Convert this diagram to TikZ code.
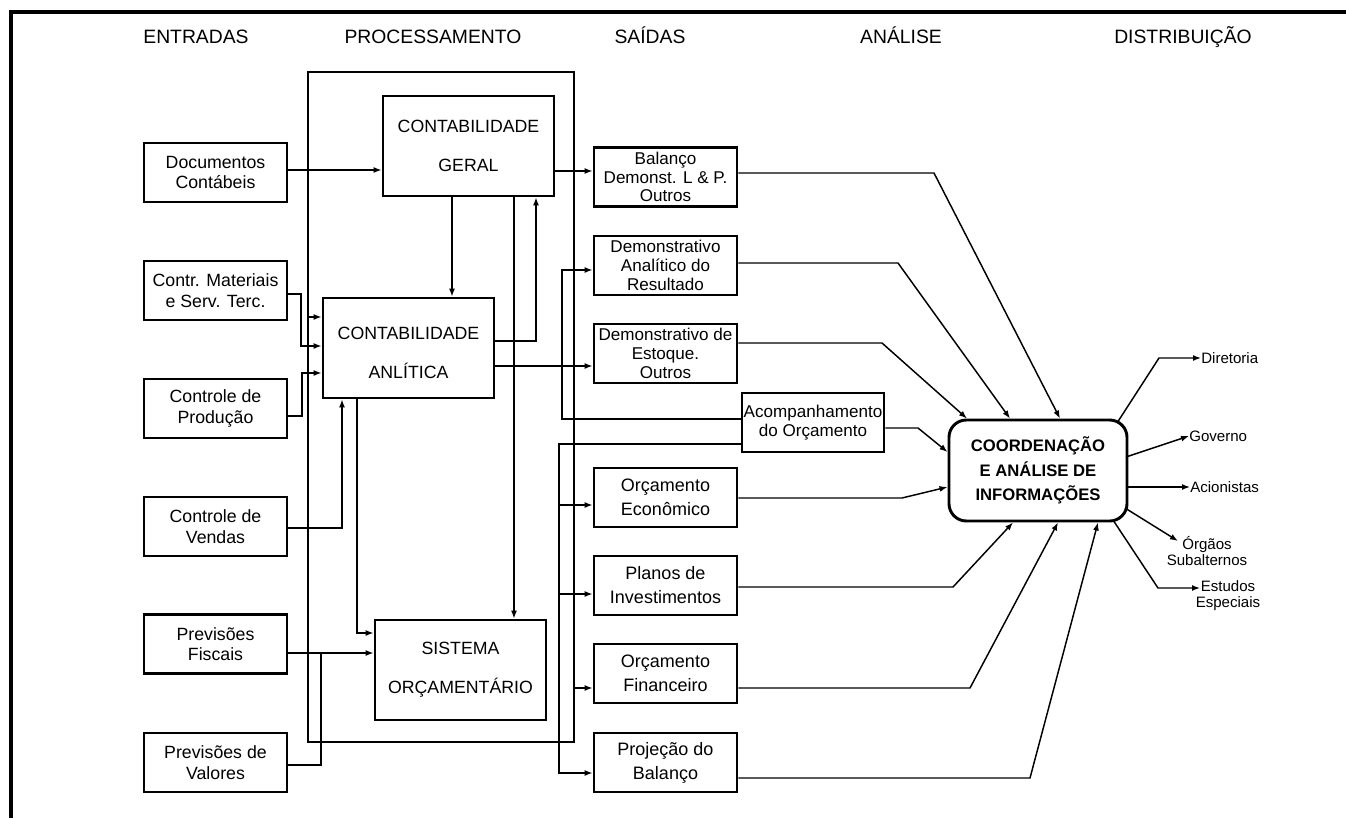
\documentclass[tikz,border=0pt]{standalone}
\usepackage{fontspec}
\setmainfont{Liberation Sans}
\usetikzlibrary{arrows.meta}
\begin{document}
\begin{tikzpicture}[x=0.75pt,y=-0.75pt,
  box/.style={draw=black, line width=2pt, inner sep=0pt, align=center,
    minimum width=107.25pt, minimum height=44.25pt, font=\fontsize{13.3}{15.5}\selectfont},
  inbox/.style={box},
  procbox/.style={box, minimum width=128.25pt, minimum height=75pt, font=\fontsize{13.3}{29}\selectfont},
  outbox/.style={box, font=\fontsize{12.8}{14}\selectfont},
  budbox/.style={box, font=\fontsize{13.5}{18}\selectfont},
  hub/.style={draw=black, line width=2.2pt, rounded corners=13pt, minimum width=133.5pt,
    minimum height=75.75pt, align=center, inner sep=0pt,
    font=\fontsize{12.5}{18.4}\selectfont\bfseries},
  head/.style={font=\fontsize{14.5}{17}\selectfont, inner sep=0pt, anchor=base},
  dest/.style={font=\fontsize{11.3}{12}\selectfont, inner sep=0pt, align=center},
  conn/.style={line width=1.3pt},
  arr/.style={conn, -{Latex[length=6pt,width=4.5pt]}},
  arrb/.style={line width=1.1pt, -{Latex[length=6pt,width=4.5pt]}},
]
\useasboundingbox (0,0) rectangle (1346,818);
% frame
\draw[line width=2.5pt] (11,818) -- (11,12) -- (1346,12);

% headers
\node[head] (hE) at (196,43) {ENTRADAS};
\node[head] (hP) at (433,43) {PROCESSAMENTO};
\node[head] (hS) at (650,43) {SAÍDAS};
\node[head] (hA) at (901,43) {ANÁLISE};
\node[head] (hD) at (1183,43) {DISTRIBUIÇÃO};

% inputs
\node[inbox] (docs) at (215.5,172.5) {Documentos\\Contábeis};
\node[inbox] (mat)  at (215.5,290.5) {Contr. Materiais\\e Serv. Terc.};
\node[inbox] (prod) at (215.5,408.5) {Controle de\\Produção};
\node[inbox] (vend) at (215.5,526.5) {Controle de\\Vendas};
\node[inbox] (fisc) at (215.5,644) {Previsões\\Fiscais};
\node[inbox] (valo) at (215.5,762.5) {Previsões de\\Valores};

% processing
\node[procbox] (geral) at (468.5,146) {CONTABILIDADE\\GERAL};
\node[procbox] (anal)  at (408.5,348) {\rule{0pt}{17pt}CONTABILIDADE\\ANLÍTICA};
\node[procbox] (sist)  at (460.5,670) {SISTEMA\\ORÇAMENTÁRIO};

% outputs
\node[outbox] (bal) at (665.5,177) {Balanço\\Demonst. L \& P.\\Outros};
\node[outbox] (dar) at (665.5,265.5) {Demonstrativo\\Analítico do\\Resultado};
\node[outbox] (est) at (665.5,353.5) {Demonstrativo de\\Estoque.\\Outros};
\node[outbox, minimum width=106.5pt] (acomp) at (813,422.5) {Acompanhamento\\do Orçamento};
\node[budbox] (orce) at (665.5,497.5) {Orçamento\\Econômico};
\node[budbox] (plan) at (665.5,585.5) {Planos de\\Investimentos};
\node[budbox] (orcf) at (665.5,673.5) {Orçamento\\Financeiro};
\node[budbox] (proj) at (665.5,762.5) {Projeção do\\Balanço};

% hub
\node[hub] (coord) at (1038,470.5) {COORDENAÇÃO\\E ANÁLISE DE\\INFORMAÇÕES};

% destinations
\node[dest, anchor=west] (dir) at (1201,358) {Diretoria};
\node[dest, anchor=west] (gov) at (1189,436) {Governo};
\node[dest, anchor=west] (aci) at (1190,487) {Acionistas};
\node[dest] (org) at (1207,551) {Órgãos\\Subalternos};
\node[dest] (estu) at (1228,596) {Estudos\\Especiais};

% named coordinates
\coordinate (loopTL) at (308,72);
\coordinate (loopBR) at (574,742);
\coordinate (loopA) at (308,317);
\coordinate (loopF) at (574,688);
\coordinate (jE) at (559,505);
\coordinate (jP) at (559,594);
\coordinate (hubA) at (1117,423);
\coordinate (hubB) at (1126,457);
\coordinate (hubD) at (1125,508);
\coordinate (hubE) at (1113,520);
\coordinate (orgIn) at (1178,541);
\coordinate (estIn) at (1200,588);

% loop line
\draw[conn] (loopTL) rectangle (loopBR);

% input / processing connections
\draw[arr] (docs.east |- 0,170) -- (geral.west |- 0,170);
\draw[arr] (geral.east |- 0,171) -- (bal.west |- 0,171);
\draw[arr] (geral.south -| 452,0) -- (anal.north -| 452,0);
\draw[arr] (geral.south -| 514,0) -- (sist.north -| 514,0);
\draw[arr] (anal.east |- 0,341) -| (geral.south -| 536,0);
\draw[arr] (anal.east |- 0,366) -- (est.west |- 0,366);
\draw[arr] (mat.east |- 0,294) -| (301,346) -- (anal.west |- 0,346);
\draw[arr] (loopA) -- (anal.west |- loopA);
\draw[arr] (prod.east |- 0,416) -| (302,373) -- (anal.west |- 0,373);
\draw[arr] (vend.east |- 0,528) -| (anal.south -| 342,0);
\draw[arr] (anal.south -| 357,0) |- (sist.west |- 0,633);
\draw[arr] (fisc.east |- 0,653) -- (sist.west |- 0,653);
\draw[conn] (valo.east |- 0,765) -| (321,653);

% output-side connections
\draw[arr] (acomp.west |- 0,419) -| (562,270) -- (dar.west |- 0,270);
\draw[arr] (acomp.west |- 0,444) -| (559,773) -- (proj.west |- 0,773);
\draw[arr] (jE) -- (orce.west |- jE);
\draw[arr] (jP) -- (plan.west |- jP);
\draw[arr] (loopF) -- (orcf.west |- loopF);

% to hub
\draw[arrb] (bal.east |- 0,173) -- (934,173) -- (coord.north -| 1060,0);
\draw[arrb] (dar.east |- 0,263) -- (898,263) -- (coord.north -| 1010,0);
\draw[arrb] (est.east |- 0,343) -- (882,343) -- (coord.north -| 967,0);
\draw[arrb] (acomp.east |- 0,428) -- (918,428) -- (coord.west |- 0,452);
\draw[arrb] (orce.east |- 0,498) -- (902,498) -- (coord.west |- 0,487);
\draw[arrb] (plan.east |- 0,587) -- (953,587) -- (coord.south -| 1013,0);
\draw[arrb] (orcf.east |- 0,688) -- (970,688) -- (coord.south -| 1058,0);
\draw[arrb] (proj.east |- 0,778) -- (1030,778) -- (coord.south -| 1098,0);

% from hub
\draw[arrb] (hubA) -- (1159,358) -- (dir.west);
\draw[arrb] (hubB) -- (gov.west);
\draw[arrb] (coord.east |- aci.west) -- (aci.west);
\draw[arrb] (hubD) -- (orgIn);
\draw[arrb] (hubE) -- (1158,588) -- (estIn);
\end{tikzpicture}
\end{document}
